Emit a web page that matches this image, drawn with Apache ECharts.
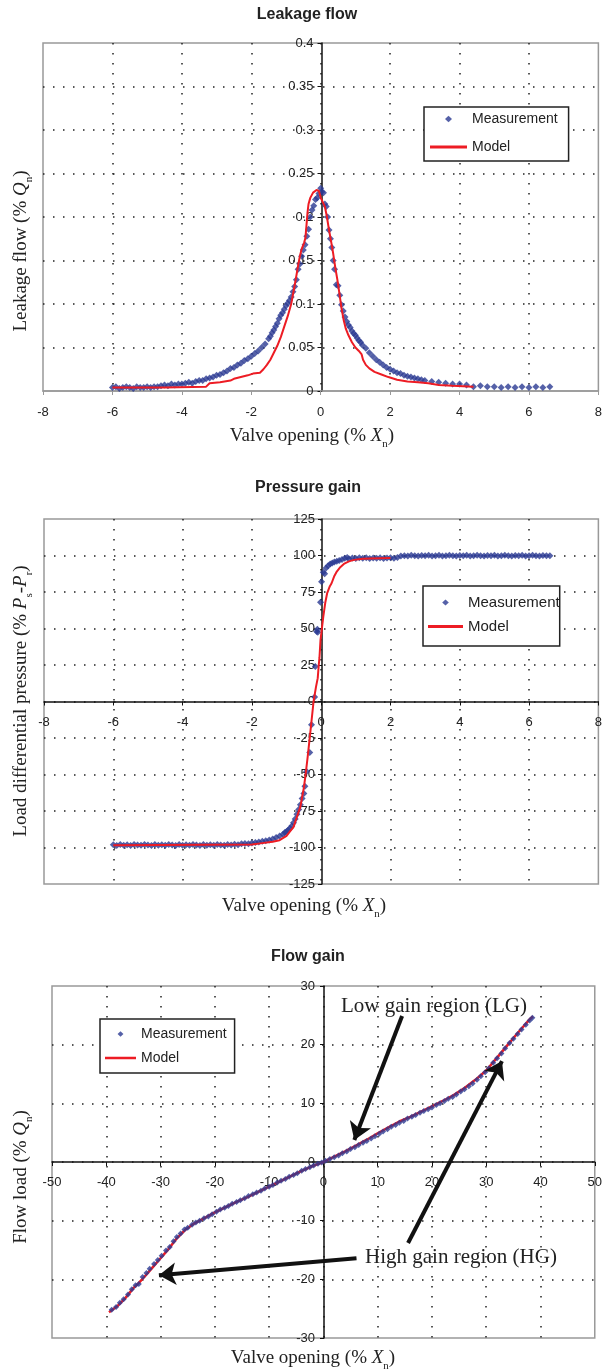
<!DOCTYPE html>
<html><head><meta charset="utf-8">
<script src="https://cdn.jsdelivr.net/npm/echarts@6/dist/echarts.min.js"></script>
<style>html,body{margin:0;padding:0;background:#fff}#c{width:605px;height:1372px}</style>
</head><body><div id="c"></div>
<script>
// ---------- DATA ----------
const leakTicksX = [-8, 8, 2];
const leakTicksY = [0, 0.4, 0.05];
const leakMeasured = [
[-6.0,0.004],[-5.9,0.005],[-5.8,0.003],[-5.7,0.004],[-5.6,0.005],[-5.5,0.004],[-5.4,0.003],[-5.3,0.005],[-5.2,0.004],[-5.1,0.004],
[-5.0,0.005],[-4.9,0.004],[-4.8,0.005],[-4.7,0.005],[-4.6,0.006],[-4.5,0.007],[-4.4,0.006],[-4.3,0.008],[-4.2,0.007],[-4.1,0.008],
[-4.0,0.008],[-3.9,0.009],[-3.8,0.010],[-3.7,0.009],[-3.6,0.011],[-3.5,0.012],[-3.4,0.012],[-3.3,0.014],[-3.2,0.015],[-3.1,0.016],
[-3.0,0.018],[-2.9,0.019],[-2.8,0.021],[-2.7,0.023],[-2.6,0.026],[-2.5,0.027],[-2.4,0.030],[-2.3,0.032],[-2.2,0.035],[-2.1,0.037],
[-2.0,0.040],[-1.9,0.043],[-1.8,0.046],[-1.7,0.050],[-1.6,0.054],[-1.5,0.060],[-1.45,0.063],[-1.4,0.067],[-1.35,0.070],[-1.3,0.074],
[-1.25,0.078],[-1.2,0.083],[-1.15,0.087],[-1.1,0.090],[-1.05,0.094],[-1.0,0.098],[-0.95,0.101],[-0.9,0.104],[-0.85,0.108],[-0.8,0.114],
[-0.75,0.120],[-0.7,0.128],[-0.65,0.140],[-0.6,0.146],[-0.55,0.155],[-0.5,0.162],[-0.45,0.168],[-0.4,0.178],[-0.35,0.186],[-0.3,0.200],
[-0.25,0.208],[-0.2,0.213],[-0.15,0.220],[-0.1,0.222],[-0.05,0.227],[0.0,0.233],[0.03,0.229],[0.08,0.228],[0.12,0.215],[0.16,0.212],
[0.2,0.200],[0.24,0.185],[0.28,0.175],[0.32,0.165],[0.36,0.150],[0.4,0.140],[0.45,0.122],[0.5,0.121],[0.55,0.110],[0.6,0.099],
[0.65,0.092],[0.7,0.085],[0.75,0.080],[0.8,0.076],[0.85,0.073],[0.9,0.069],[0.95,0.066],[1.0,0.064],[1.05,0.061],[1.1,0.058],
[1.15,0.056],[1.2,0.053],[1.3,0.049],[1.4,0.044],[1.5,0.040],[1.6,0.036],[1.7,0.033],[1.8,0.030],[1.9,0.027],[2.0,0.025],
[2.1,0.023],[2.2,0.021],[2.3,0.020],[2.4,0.018],[2.5,0.017],[2.6,0.016],[2.7,0.015],[2.8,0.014],[2.9,0.013],[3.0,0.012],
[3.2,0.011],[3.4,0.010],[3.6,0.009],[3.8,0.008],[4.0,0.008],[4.2,0.007],[4.4,0.005],[4.6,0.006],[4.8,0.005],[5.0,0.005],
[5.2,0.004],[5.4,0.005],[5.6,0.004],[5.8,0.005],[6.0,0.004],[6.2,0.005],[6.4,0.004],[6.6,0.005]
];
const leakModel = [
[-6.0,0.004],[-4.5,0.004],[-3.3,0.005],[-3.2,0.009],[-2.9,0.010],[-2.6,0.012],[-2.5,0.014],[-2.3,0.016],[-2.1,0.018],[-1.95,0.020],
[-1.75,0.021],[-1.65,0.025],[-1.55,0.030],[-1.45,0.036],[-1.35,0.044],[-1.25,0.052],[-1.15,0.062],[-1.05,0.074],[-0.95,0.086],[-0.85,0.100],
[-0.78,0.115],[-0.72,0.128],[-0.66,0.142],[-0.6,0.155],[-0.55,0.163],[-0.48,0.170],[-0.44,0.176],[-0.41,0.190],[-0.38,0.205],[-0.35,0.215],
[-0.3,0.222],[-0.22,0.228],[-0.12,0.231],[-0.05,0.230],[0.0,0.222],[0.05,0.218],[0.12,0.212],[0.18,0.200],[0.24,0.185],[0.3,0.172],
[0.36,0.158],[0.42,0.142],[0.48,0.128],[0.54,0.112],[0.6,0.095],[0.66,0.082],[0.72,0.072],[0.8,0.064],[0.9,0.056],[1.0,0.050],
[1.1,0.046],[1.18,0.042],[1.22,0.036],[1.3,0.030],[1.4,0.026],[1.55,0.022],[1.75,0.019],[1.95,0.016],[2.2,0.013],[2.5,0.011],
[2.8,0.010],[3.1,0.009],[3.4,0.007],[3.8,0.006],[4.4,0.005]
];

const pressTicksX = [-8, 8, 2];
const pressTicksY = [-125, 125, 25];
const pressMeasured = [
[-6.0,-98.2],[-5.9,-98.6],[-5.8,-97.9],[-5.7,-98.4],[-5.6,-98.1],[-5.5,-98.6],[-5.4,-98.0],[-5.3,-98.3],[-5.2,-98.5],[-5.1,-97.9],
[-5.0,-98.3],[-4.9,-98.6],[-4.8,-98.0],[-4.7,-98.4],[-4.6,-98.1],[-4.5,-98.5],[-4.4,-97.9],[-4.3,-98.3],[-4.2,-98.6],[-4.1,-98.0],
[-4.0,-98.4],[-3.9,-98.1],[-3.8,-98.5],[-3.7,-97.9],[-3.6,-98.3],[-3.5,-98.6],[-3.4,-98.0],[-3.3,-98.4],[-3.2,-98.1],[-3.1,-98.5],
[-3.0,-97.9],[-2.9,-98.3],[-2.8,-98.5],[-2.7,-98.0],[-2.6,-98.3],[-2.5,-97.8],[-2.4,-98.1],[-2.3,-97.4],[-2.2,-97.2],[-2.1,-97.5],
[-2.0,-96.9],[-1.9,-96.6],[-1.8,-96.2],[-1.7,-95.8],[-1.6,-95.3],[-1.5,-94.8],[-1.4,-94.1],[-1.3,-93.2],[-1.2,-92.2],[-1.1,-91.0],
[-1.05,-89.8],[-1.0,-89.0],[-0.95,-88.0],[-0.9,-86.8],[-0.85,-85.2],[-0.8,-83.0],[-0.75,-80.5],[-0.7,-77.2],[-0.65,-74.0],[-0.6,-70.8],
[-0.55,-66.5],[-0.5,-63.0],[-0.47,-58.0],[-0.42,-48.0],[-0.33,-35.0],[-0.28,-16.0],[-0.19,3.0],[-0.17,24.0],[-0.13,48.0],[-0.11,49.5],
[-0.1,47.5],[-0.02,68.0],[0.01,82.0],[0.06,88.5],[0.1,87.5],[0.14,91.5],[0.2,93.0],[0.26,94.2],[0.32,94.8],[0.38,95.6],
[0.45,96.0],[0.52,96.6],[0.6,97.2],[0.68,98.2],[0.75,98.6],[0.8,97.8],[0.9,98.3],[1.0,98.0],[1.1,98.4],[1.2,98.1],
[1.3,98.5],[1.4,98.0],[1.5,98.3],[1.6,98.1],[1.7,98.4],[1.8,98.0],[1.9,98.3],[2.0,98.5],[2.1,98.2],[2.2,98.6],
[2.3,99.6],[2.4,99.9],[2.5,99.7],[2.6,100.1],[2.7,99.8],[2.8,99.6],[2.9,100.0],[3.0,99.8],[3.1,100.1],[3.2,99.7],
[3.3,99.9],[3.4,100.1],[3.5,99.7],[3.6,99.9],[3.7,100.2],[3.8,99.8],[3.9,99.6],[4.0,100.0],[4.1,99.8],[4.2,100.1],
[4.3,99.7],[4.4,99.9],[4.5,100.1],[4.6,99.8],[4.7,99.6],[4.8,100.0],[4.9,99.8],[5.0,100.1],[5.1,99.7],[5.2,99.9],
[5.3,100.1],[5.4,99.8],[5.5,99.6],[5.6,100.0],[5.7,99.8],[5.8,100.1],[5.9,99.7],[6.0,99.9],[6.1,100.1],[6.2,99.8],
[6.3,99.6],[6.4,100.0],[6.5,99.8],[6.6,99.9]
];
const pressModel = [
[-6.0,-98.5],[-2.0,-98.0],[-1.7,-97.0],[-1.4,-96.0],[-1.2,-95.0],[-1.0,-92.0],[-0.9,-89.0],[-0.8,-86.0],[-0.7,-79.0],[-0.6,-72.0],
[-0.5,-59.0],[-0.45,-50.0],[-0.39,-38.0],[-0.3,-18.0],[-0.22,0.0],[-0.15,10.0],[-0.1,16.0],[-0.07,25.0],[-0.05,30.0],[-0.02,42.0],
[0.06,58.0],[0.12,68.0],[0.17,74.0],[0.25,79.0],[0.3,81.0],[0.38,86.0],[0.45,89.0],[0.55,92.0],[0.67,94.5],[0.8,96.0],
[0.95,97.0],[1.2,97.8],[1.4,98.0],[2.0,98.3]
];

const flowTicksX = [-50, 50, 10];
const flowTicksY = [-30, 30, 10];
const flowMeasured = [
[-39,-25.2],[-38.2,-24.7],[-37.5,-24.0],[-36.8,-23.4],[-36,-22.6],[-35.3,-21.7],[-34.6,-21.0],[-34,-20.8],[-33.3,-19.6],[-32.6,-18.9],
[-32,-18.2],[-31.2,-17.4],[-30.5,-16.7],[-29.8,-16.0],[-29,-15.1],[-28.3,-14.5],[-27.6,-13.5],[-27,-12.8],[-26.3,-12.2],[-25.6,-11.5],
[-25,-11.2],[-24.2,-10.7],[-23.5,-10.3],[-22.8,-10.0],[-22,-9.6],[-21.2,-9.3],[-20.5,-8.9],[-19.7,-8.5],[-19,-8.1],[-18.2,-7.8],
[-17.5,-7.5],[-16.8,-7.1],[-16,-6.8],[-15.3,-6.5],[-14.5,-6.2],[-13.8,-5.8],[-13,-5.5],[-12.3,-5.2],[-11.5,-4.9],[-10.8,-4.5],
[-10,-4.2],[-9.3,-3.9],[-8.5,-3.5],[-7.8,-3.2],[-7,-2.9],[-6.3,-2.5],[-5.5,-2.2],[-4.8,-1.9],[-4,-1.5],[-3.3,-1.2],
[-2.5,-0.9],[-1.8,-0.6],[-1,-0.3],[-0.3,-0.1],[0.4,0.2],[1.2,0.5],[2,0.8],[2.8,1.1],[3.5,1.5],[4.3,1.8],
[5,2.2],[5.8,2.5],[6.5,2.9],[7.3,3.3],[8,3.6],[8.8,4.0],[9.5,4.4],[10.3,4.8],[11,5.2],[11.8,5.6],
[12.5,6.0],[13.3,6.3],[14,6.7],[14.8,7.0],[15.5,7.4],[16.3,7.7],[17,8.0],[17.8,8.4],[18.5,8.7],[19.3,9.0],
[20,9.3],[20.8,9.7],[21.5,10.0],[22.3,10.4],[23,10.8],[23.8,11.1],[24.5,11.5],[25.3,12.0],[26,12.4],[26.8,12.9],
[27.5,13.4],[28.3,14.0],[29,14.6],[29.8,15.3],[30.5,16.0],[31.3,16.9],[32,17.7],[32.8,18.5],[33.5,19.4],[34.3,20.3],
[35,21.0],[35.8,21.8],[36.5,22.6],[37.3,23.4],[38,24.1],[38.5,24.6]
];
const flowModel = [
[-39.5,-25.6],[-38,-24.6],[-36.5,-23.2],[-35,-21.5],[-34,-20.6],[-33,-19.6],[-31.5,-18.0],[-30,-16.4],[-28.5,-14.8],[-27,-13.0],
[-25.5,-11.6],[-24,-10.6],[-22,-9.6],[-20,-8.6],[-18,-7.7],[-16,-6.8],[-14,-6.0],[-12,-5.1],[-10,-4.2],[-8,-3.3],
[-6,-2.4],[-4,-1.5],[-2,-0.7],[0,0],[2,0.9],[4,1.8],[6,2.8],[8,3.8],[10,4.9],[12,5.9],
[14,6.9],[16,7.7],[18,8.6],[20,9.5],[22,10.4],[24,11.4],[26,12.6],[28,14.0],[30,15.6],[32,17.8],
[34,20.0],[36,22.2],[38,24.3],[38.6,24.8]
];
// annotation arrows (data coordinates): [start, tip]
const flowArrows = [
  [[14.5, 24.9], [5.7, 3.75]],
  [[15.6, -13.8], [32.9, 17.2]],
  [[6.1, -16.4], [-30.3, -19.3]]
];
const legendNames = ['Measurement', 'Model'];
const titles = ['Leakage flow', 'Pressure gain', 'Flow gain'];

// ---------- STYLE ----------
const BLUE = '#2b3a92', RED = '#ed1c24', INK = '#222';
const SANS = 'Liberation Sans, Arial, sans-serif';
const SERIF = 'Liberation Serif, Times New Roman, serif';
const grids = [
  {left: 43, top: 43, width: 557, height: 348},
  {left: 44, top: 519, width: 556, height: 365},
  {left: 52, top: 986, width: 544, height: 352}
];
function dotted() {
  return {show: true, showMinLine: false, showMaxLine: false,
    lineStyle: {color: '#222', width: 1.5, type: [1.5, 8.5]}};
}
// offset moves the axis from the grid edge onto the zero line of the other axis
function xAxis(gi, t, margin, lineColor, offset) {
  return {type: 'value', gridIndex: gi, min: t[0], max: t[1], interval: t[2], position: 'bottom', offset: offset,
    axisLine: {onZero: false, lineStyle: {color: lineColor, width: 1.5}},
    axisTick: {show: true, length: 4, lineStyle: {color: lineColor, width: 1}},
    axisLabel: {margin: margin, fontSize: 13, color: INK, fontFamily: SANS},
    splitLine: dotted()};
}
function yAxis(gi, t, margin, offset) {
  return {type: 'value', gridIndex: gi, min: t[0], max: t[1], interval: t[2], position: 'left', offset: offset,
    axisLine: {onZero: false, lineStyle: {color: '#111', width: 1.5}},
    axisTick: {show: true, length: 4, lineStyle: {color: '#111', width: 1}},
    axisLabel: {margin: margin, fontSize: 13, color: INK, fontFamily: SANS},
    splitLine: dotted()};
}
function meas(i, data, z, size) {
  return {type: 'scatter', name: legendNames[0], xAxisIndex: i, yAxisIndex: i, data: data,
    symbol: 'diamond', symbolSize: size, itemStyle: {color: BLUE}, z: z};
}
function model(i, data, z, w) {
  return {type: 'line', name: legendNames[1], xAxisIndex: i, yAxisIndex: i, data: data,
    symbol: 'none', showSymbol: false, lineStyle: {color: RED, width: w}, itemStyle: {color: RED}, z: z};
}
const legendData = [
  {name: legendNames[0], icon: 'path://M0,3.5L0,3.5M15,3.5L18.5,0.3L22,3.5L18.5,6.7ZM37,3.5L37,3.5'},
  {name: legendNames[1], icon: 'path://M0,0L0,0M0,2L37,2L37,5L0,5ZM37,7L37,7'}
];
function legend(left, top, padding, gap, itemWidth, fs) {
  return {left: left, top: top, orient: 'vertical', data: legendData, padding: padding,
    itemGap: gap, itemWidth: itemWidth, itemHeight: 7, borderColor: '#222', borderWidth: 1.5,
    backgroundColor: '#fff', selectedMode: false, itemStyle: {borderWidth: 0},
    textStyle: {fontSize: fs, color: INK, fontFamily: SANS}};
}
const richBase = {
  r: {fontFamily: SERIF, fontSize: 19, fill: INK, color: INK, lineHeight: 28, verticalAlign: 'middle'},
  i: {fontFamily: SERIF, fontSize: 19, fontStyle: 'italic', fill: INK, color: INK, lineHeight: 28, verticalAlign: 'middle'},
  s: {fontFamily: SERIF, fontSize: 11, fill: INK, color: INK, lineHeight: 13, verticalAlign: 'bottom'}
};
function axisTitle(x, y, rot, text) {
  return {type: 'text', x: x, y: y, rotation: rot, silent: true,
    style: {text: text, rich: richBase, align: 'center', verticalAlign: 'middle'}};
}
function note(x, y, text) {
  return {type: 'text', x: x, y: y, silent: true,
    style: {text: text, fontFamily: SERIF, fontSize: 21, fill: INK, align: 'left', verticalAlign: 'middle'}};
}
const valveTitle = '{r|Valve opening (% }{i|X}{s|n}{r|)}';

const flowModelSeries = model(2, flowModel, 2, 2.5);
flowModelSeries.markLine = {
  silent: true, animation: false, symbol: ['none', 'arrow'], symbolSize: 17,
  label: {show: false},
  lineStyle: {color: '#111', width: 4, type: 'solid'},
  data: flowArrows.map(a => [{coord: a[0]}, {coord: a[1]}])
};

const option = {
  animation: false,
  backgroundColor: '#fff',
  title: titles.map((t, k) => ({text: t, left: [307, 308, 308][k], top: [7, 480, 949][k], textAlign: 'center', padding: 0,
    textStyle: {fontFamily: SANS, fontSize: 16, fontWeight: 'bold', color: INK}})),
  grid: grids.map(g => Object.assign({show: true, borderColor: '#999', borderWidth: 1.5, backgroundColor: 'transparent'}, g)),
  xAxis: [xAxis(0, leakTicksX, 15, '#999', 0), xAxis(1, pressTicksX, 14, '#111', -182.5), xAxis(2, flowTicksX, 14, '#111', -176)],
  yAxis: [yAxis(0, leakTicksY, 8, -278.5), yAxis(1, pressTicksY, 7, -278), yAxis(2, flowTicksY, 9, -272)],
  legend: [
    legend(424, 107, [5, 11, 7, 6], 14, 37, 14),
    legend(423, 586, [9, 0, 12, 5], 9, 35, 15),
    legend(100, 1019, [8, 8, 8, 5], 10, 31, 14)
  ],
  series: [
    meas(0, leakMeasured, 3, 7), model(0, leakModel, 4, 2),
    meas(1, pressMeasured, 3, 7), model(1, pressModel, 4, 2),
    flowModelSeries, meas(2, flowMeasured, 3, 6)
  ],
  graphic: [
    axisTitle(312, 436, 0, valveTitle),
    axisTitle(304, 906, 0, valveTitle),
    axisTitle(313, 1358, 0, valveTitle),
    axisTitle(21, 251, Math.PI / 2, '{r|Leakage flow (% }{i|Q}{s|n}{r|)}'),
    axisTitle(21, 701, Math.PI / 2, '{r|Load differential pressure (% }{i|P}{s|s}{r|-}{i|P}{s|r}{r|)}'),
    axisTitle(21, 1177, Math.PI / 2, '{r|Flow load (% }{i|Q}{s|n}{r|)}'),
    note(341, 1006, 'Low gain region (LG)'),
    note(365, 1257, 'High gain region (HG)')
  ]
};
const chart = echarts.init(document.getElementById('c'), null, {renderer: 'canvas', devicePixelRatio: 1});
chart.setOption(option);
</script></body></html>
